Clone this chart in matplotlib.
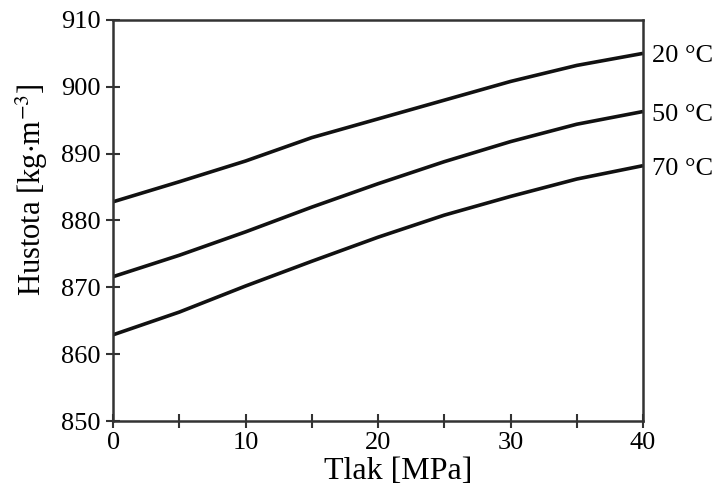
import numpy as np
import matplotlib
matplotlib.use('Agg')
import matplotlib.pyplot as plt

plt.rcParams['font.family'] = ['Liberation Serif', 'DejaVu Serif']
plt.rcParams['mathtext.fontset'] = 'stix'

# data
tlak = [0, 5, 10, 15, 20, 25, 30, 35, 40]
husto_20 = [882.8, 885.8, 888.9, 892.4, 895.2, 898.0, 900.8, 903.2, 905.0]
husto_50 = [871.6, 874.8, 878.3, 882.0, 885.5, 888.8, 891.8, 894.4, 896.3]
husto_70 = [862.9, 866.3, 870.2, 873.9, 877.5, 880.8, 883.6, 886.2, 888.2]
popisky = ['20 °C', '50 °C', '70 °C']

fig = plt.figure(figsize=(7.16, 4.87), dpi=100)
ax = fig.add_axes([0.158, 0.1355, 0.74, 0.8235])

for y, lab in zip([husto_20, husto_50, husto_70], popisky):
    ax.plot(tlak, y, color='#111111', lw=2.6, solid_capstyle='butt',
            solid_joinstyle='round')
    # popisek vpravo za osou
    ax.annotate(lab, xy=(1.0, (y[-1] - 850) / 60), xycoords='axes fraction',
                xytext=(9, -3), textcoords='offset pixels',
                fontsize=19, va='center', ha='left')

ax.set_xlim(0, 40)
ax.set_ylim(850, 910)
ax.set_xticks([0, 10, 20, 30, 40])
ax.set_xticks([5, 15, 25, 35], minor=True)
ax.set_yticks([850, 860, 870, 880, 890, 900, 910])
ax.tick_params(which='both', direction='inout', length=10, width=1.5,
               color='#333333', labelsize=19, pad=4)
ax.tick_params(axis='x', which='both', pad=3)

for s in ax.spines.values():
    s.set_linewidth(1.8)
    s.set_color('#333333')

ax.set_xlabel('Tlak [MPa]', fontsize=23, labelpad=2)
ax.set_ylabel(r'Hustota [kg$\cdot$m$^{-3}$]', fontsize=22, labelpad=8)
ax.xaxis.label.set_x(0.538)
ax.yaxis.label.set_y(0.576)

fig.savefig('out.png', dpi=100)
